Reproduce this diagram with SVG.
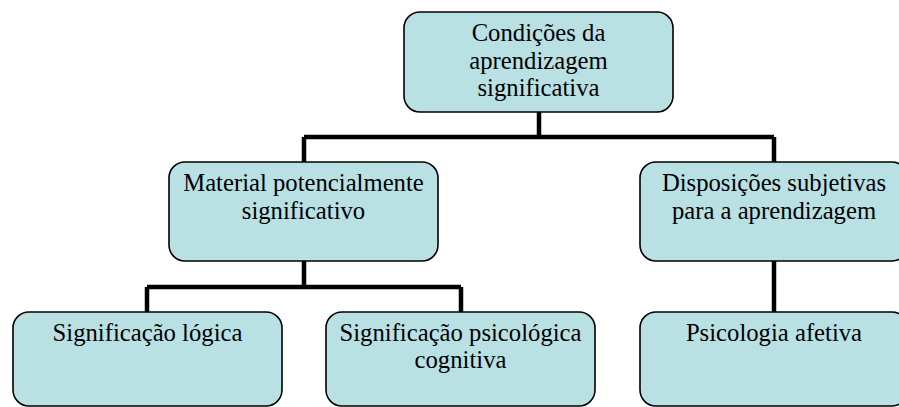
<svg xmlns="http://www.w3.org/2000/svg" width="899" height="407" viewBox="0 0 899 407">
<style>
.box{fill:#B9E0E3;stroke:#000;stroke-width:1.6}
.t{font-family:"Liberation Serif","Times New Roman",serif;font-size:24.7px;fill:#000;text-anchor:middle}
.c{fill:none;stroke:#000;stroke-width:4.5;stroke-linejoin:miter}
</style>
<rect width="899" height="407" fill="#fff"/>
<g id="connectors">
<path class="c" d="M539,112 V137 M304,137 H774 M304,137 V162 M774,137 V162"/>
<path class="c" d="M304,261 V287 M147,287 H461 M147,287 V312 M461,287 V312"/>
<path class="c" d="M774,261 V312"/>
</g>
<g id="n-condicoes">
<rect class="box" x="404" y="12" width="269" height="100" rx="16"/>
<text class="t" x="538.5" y="41">Condições da</text>
<text class="t" x="538.5" y="68.5">aprendizagem</text>
<text class="t" x="538.5" y="96">significativa</text>
</g>
<g id="n-material">
<rect class="box" x="169" y="162" width="269" height="99" rx="16"/>
<text class="t" x="303.5" y="191">Material potencialmente</text>
<text class="t" x="303.5" y="218.5">significativo</text>
</g>
<g id="n-disposicoes">
<rect class="box" x="640" y="162" width="268" height="99" rx="16"/>
<text class="t" x="774" y="191">Disposições subjetivas</text>
<text class="t" x="774" y="218.5">para a aprendizagem</text>
</g>
<g id="n-logica">
<rect class="box" x="13" y="312" width="269" height="94" rx="16"/>
<text class="t" x="147.5" y="341">Significação lógica</text>
</g>
<g id="n-psicologica">
<rect class="box" x="326" y="312" width="269" height="94" rx="16"/>
<text class="t" x="460.5" y="341">Significação psicológica</text>
<text class="t" x="460.5" y="368">cognitiva</text>
</g>
<g id="n-afetiva">
<rect class="box" x="640" y="312" width="268" height="94" rx="16"/>
<text class="t" x="774" y="341">Psicologia afetiva</text>
</g>
</svg>
